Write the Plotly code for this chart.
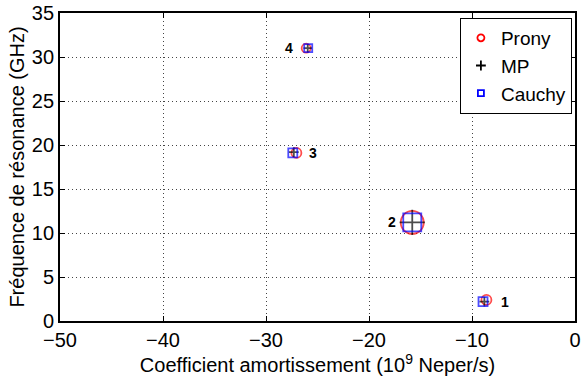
import plotly.graph_objects as go

# Data (damping coefficient in 1e9 Neper/s, resonance frequency in GHz)
mode_labels = ["1", "2", "3", "4"]
prony_x = [-8.6, -15.8, -27.05, -26.1]
prony_y = [2.4, 11.2, 19.1, 31.0]
mp_x = [-8.8, -15.8, -27.3, -25.95]
mp_y = [2.2, 11.2, 19.2, 31.0]
cauchy_x = [-8.93, -15.8, -27.4, -25.9]
cauchy_y = [2.2, 11.2, 19.1, 31.0]

x_ticks = [-50, -40, -30, -20, -10, 0]
x_ticklabels = ["\u221250", "\u221240", "\u221230", "\u221220", "\u221210", "0"]
y_ticks = [0, 5, 10, 15, 20, 25, 30, 35]

# styles
circle_sizes = [10, 23, 10, 9]
plus_sizes = [7, 18, 7, 6]
square_sizes = [9, 18, 9, 8]
label_shift = [22, -20, 20, -19]

FONT = "Liberation Sans, Arial, Helvetica, sans-serif"

fig = go.Figure()
fig.add_trace(go.Scatter(x=prony_x, y=prony_y, mode="markers", showlegend=False,
                         marker=dict(symbol="circle-open", size=circle_sizes, color="#ff0000",
                                     line=dict(width=1.8, color="#ff0000"))))
fig.add_trace(go.Scatter(x=mp_x, y=mp_y, mode="markers", showlegend=False,
                         marker=dict(symbol="cross-thin-open", size=plus_sizes, color="black",
                                     line=dict(width=1.8, color="black"))))
fig.add_trace(go.Scatter(x=cauchy_x, y=cauchy_y, mode="markers", showlegend=False,
                         marker=dict(symbol="square-open", size=square_sizes, color="#0000ff",
                                     line=dict(width=1.8, color="#0000ff"))))

# legend entries
fig.add_trace(go.Scatter(x=[None], y=[None], mode="markers", name="Prony",
                         marker=dict(symbol="circle-open", size=7, color="#ff0000",
                                     line=dict(width=1.8, color="#ff0000"))))
fig.add_trace(go.Scatter(x=[None], y=[None], mode="markers", name="MP",
                         marker=dict(symbol="cross-thin-open", size=7, color="black",
                                     line=dict(width=1.8, color="black"))))
fig.add_trace(go.Scatter(x=[None], y=[None], mode="markers", name="Cauchy",
                         marker=dict(symbol="square-open", size=6, color="#0000ff",
                                     line=dict(width=1.8, color="#0000ff"))))

for lab, xv, yv, sh in zip(mode_labels, cauchy_x, cauchy_y, label_shift):
    fig.add_annotation(x=xv, y=yv, text="<b>%s</b>" % lab, showarrow=False,
                       xshift=sh, font=dict(size=14, color="black", family=FONT))

axis_common = dict(showline=True, linecolor="black", linewidth=1.8, mirror="ticks",
                   ticks="inside", ticklen=5, tickwidth=1.2, tickcolor="black",
                   showgrid=True, gridcolor="#444444", gridwidth=1, griddash="1px,3px",
                   zeroline=False, automargin=False,
                   tickfont=dict(size=20, color="black", family=FONT))

fig.update_xaxes(range=[-50, 0], tickvals=x_ticks, ticktext=x_ticklabels,
                 title=dict(text="Coefficient amortissement (10<sup>9</sup> Neper/s)",
                            font=dict(size=20, color="black", family=FONT), standoff=0),
                 **axis_common)
fig.update_yaxes(range=[0, 35], tickvals=y_ticks,
                 title=dict(text="Fréquence de résonance (GHz)",
                            font=dict(size=20, color="black", family=FONT), standoff=2),
                 **axis_common)

fig.update_layout(
    width=582, height=380,
    margin=dict(l=60, r=7, t=13, b=59),
    plot_bgcolor="white", paper_bgcolor="white",
    font=dict(family=FONT, color="black"),
    legend=dict(x=0.994, y=0.984, xanchor="right", yanchor="top",
                bgcolor="white", bordercolor="black", borderwidth=1,
                font=dict(size=19, color="black", family=FONT),
                tracegroupgap=0, itemwidth=30),
)

fig.write_html("out.html", config={"displayModeBar": False},
               post_script="document.body.style.margin='0px';")
